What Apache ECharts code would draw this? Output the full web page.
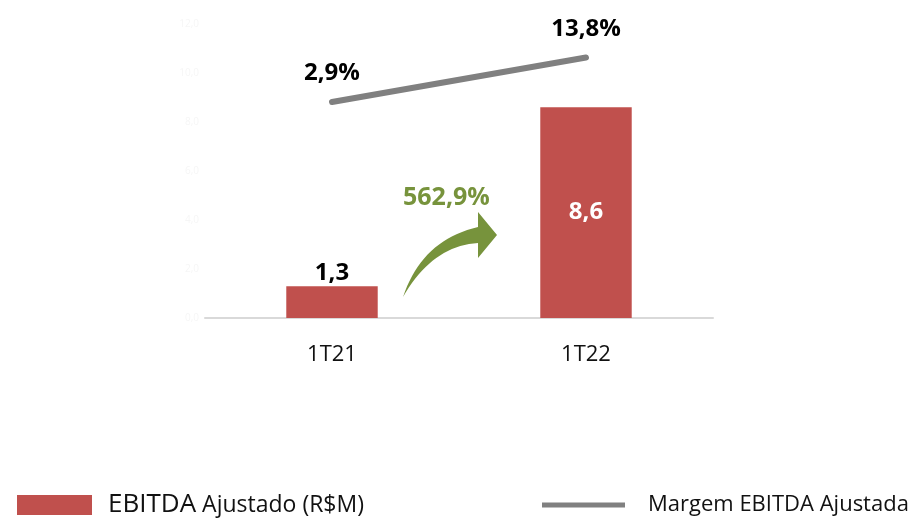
<!DOCTYPE html>
<html>
<head>
<meta charset="utf-8">
<script src="https://cdn.jsdelivr.net/npm/echarts@6/dist/echarts.min.js"></script>
<style>
  html, body { margin: 0; padding: 0; background: #fff; }
  #main { width: 919px; height: 518px; }
</style>
</head>
<body>
<div id="main"></div>
<script>
// dados do gráfico
var categorias = ['1T21', '1T22'];
var ebitda = [1.3, 8.6];        // R$M
var margem = [2.9, 13.8];       // %
var crescimento = '562,9%';

var fonte = 'Open Sans';
function br(v, casas) { return v.toFixed(casas).replace('.', ','); }

// seta curva verde (curvas quadráticas amostradas)
function quad(p0, c, p1, n) {
  var pts = [];
  for (var i = 0; i <= n; i++) {
    var t = i / n, u = 1 - t;
    pts.push([u * u * p0[0] + 2 * u * t * c[0] + t * t * p1[0],
              u * u * p0[1] + 2 * u * t * c[1] + t * t * p1[1]]);
  }
  return pts;
}
var seta = quad([403, 297], [422, 240], [478, 227], 20)
  .concat([[478, 212], [497, 235], [478, 258]])
  .concat(quad([478, 243], [432, 246], [403, 297], 20));

var myChart = echarts.init(document.getElementById('main'));
myChart.setOption({
  backgroundColor: '#ffffff',
  animation: false,
  grid: { left: 205, right: 206, top: 24, bottom: 200 },
  xAxis: {
    type: 'category',
    data: categorias,
    axisTick: { show: false },
    axisLine: { lineStyle: { color: '#d9d9d9', width: 2 } },
    axisLabel: { color: '#111', fontSize: 22, fontFamily: fonte, margin: 26 }
  },
  yAxis: [
    {
      type: 'value', min: 0, max: 12, interval: 2,
      axisLine: { show: false }, axisTick: { show: false },
      splitLine: { show: false },
      axisLabel: { color: '#f6f6f6', fontSize: 10, fontFamily: fonte, margin: 6,
        formatter: function (v) { return br(v, 1); } }
    },
    { type: 'value', min: -50, max: 22, show: false, splitLine: { show: false } }
  ],
  legend: [
    {
      left: 12, top: 487, itemWidth: 75, itemHeight: 20,
      data: [{ name: 'EBITDA', icon: 'rect' }],
      formatter: function () { return '{a|EBITDA}{b| Ajustado (R$M)}'; },
      textStyle: {
        fontFamily: fonte, color: '#111',
        rich: {
          a: { fontSize: 26, fontFamily: fonte, padding: [0, 0, 0, 11] },
          b: { fontSize: 23, fontFamily: fonte }
        }
      }
    },
    {
      left: 537, top: 489, itemWidth: 83, itemHeight: 5,
      data: [{ name: 'Margem EBITDA Ajustada', icon: 'rect' }],
      formatter: function (n) { return '{a|' + n + '}'; },
      textStyle: {
        fontFamily: fonte, color: '#111',
        rich: { a: { fontSize: 22, fontFamily: fonte, padding: [0, 0, 0, 18] } }
      }
    }
  ],
  series: [
    {
      name: 'EBITDA',
      type: 'bar',
      data: ebitda.map(function (v, i) {
        // rótulo do 1T22 fica dentro da barra, em branco
        return i === 1 ? { value: v, label: { position: 'inside', color: '#fff' } } : v;
      }),
      barWidth: '36%',
      itemStyle: { color: '#c0504d' },
      label: {
        show: true,
        fontFamily: fonte, fontWeight: 'bold', fontSize: 24,
        formatter: function (p) { return br(p.value, 1); },
        position: 'top', color: '#000', distance: 1
      }
    },
    {
      name: 'Margem EBITDA Ajustada',
      type: 'line',
      yAxisIndex: 1,
      data: margem,
      symbol: 'circle',
      symbolSize: 1,
      showSymbol: true,
      lineStyle: { color: '#808080', width: 6, cap: 'round' },
      itemStyle: { color: '#808080' },
      label: {
        show: true, position: 'top', distance: 16,
        fontFamily: fonte, fontWeight: 'bold', fontSize: 24, color: '#000',
        formatter: function (p) { return br(p.value, 1) + '%'; }
      }
    }
  ],
  graphic: [
    {
      type: 'text', x: 403, y: 198,
      style: { text: crescimento, fill: '#77933c', font: 'bold 25px "Open Sans"', verticalAlign: 'middle' }
    },
    {
      type: 'polygon',
      shape: { points: seta },
      style: { fill: '#77933c' }
    }
  ]
});
</script>
</body>
</html>
